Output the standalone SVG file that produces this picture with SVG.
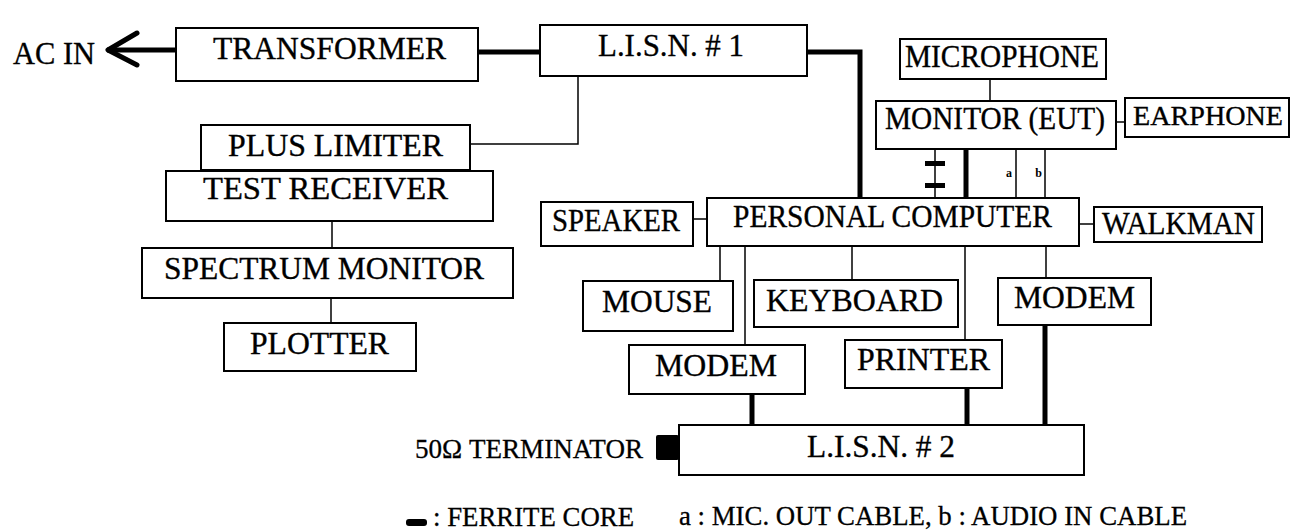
<svg xmlns="http://www.w3.org/2000/svg" width="1292" height="531" viewBox="0 0 1292 531">
<style>
.box{fill:#fff;stroke:#000;stroke-width:2}
.t{font-family:"Liberation Serif","Times New Roman",serif;font-size:32px;fill:#000;stroke:#000;stroke-width:0.35}
.s{font-family:"Liberation Serif","Times New Roman",serif;font-size:28px;fill:#000;stroke:#000;stroke-width:0.3}
.thin{fill:none;stroke:#000;stroke-width:1.5}
.thick{fill:none;stroke:#000;stroke-width:5}
</style>
<rect width="1292" height="531" fill="#fff"/>
<g id="connectors">
<line class="thick" x1="107" y1="50" x2="176" y2="50" stroke-width="4"/>
<polyline class="thick" points="137,33 108,50 137,65" stroke-linecap="round" stroke-linejoin="round"/>
<line class="thick" x1="478" y1="52" x2="540" y2="52" stroke-width="4"/>
<polyline class="thin" points="578,76 578,144 470,144"/>
<polyline class="thick" points="807,52 860,52 860,198" stroke-width="4.5"/>
<line class="thin" x1="332" y1="221" x2="332" y2="248"/>
<line class="thin" x1="331" y1="298" x2="331" y2="323"/>
<line class="thin" x1="990" y1="79" x2="990" y2="101"/>
<line class="thin" x1="1116" y1="122" x2="1125" y2="122"/>
<line class="thin" x1="935" y1="149" x2="935" y2="198"/>
<rect x="925" y="161" width="20" height="5" fill="#000"/>
<rect x="925" y="183" width="20" height="5" fill="#000"/>
<line class="thick" x1="966" y1="149" x2="966" y2="198"/>
<line class="thin" x1="1016" y1="149" x2="1016" y2="198"/>
<line class="thin" x1="1045" y1="149" x2="1045" y2="198"/>
<text x="1012" y="177" text-anchor="end" font-family="Liberation Serif, serif" font-size="12" font-weight="bold">a</text>
<text x="1042" y="177" text-anchor="end" font-family="Liberation Serif, serif" font-size="12" font-weight="bold">b</text>
<line class="thin" x1="693" y1="219" x2="707" y2="219"/>
<line class="thin" x1="1079" y1="224" x2="1094" y2="224"/>
<line class="thin" x1="720" y1="246" x2="720" y2="281"/>
<line class="thin" x1="745" y1="246" x2="745" y2="345"/>
<line class="thin" x1="852" y1="246" x2="852" y2="280"/>
<line class="thin" x1="965" y1="246" x2="965" y2="340"/>
<line class="thin" x1="1046" y1="246" x2="1046" y2="278"/>
<line class="thick" x1="752" y1="394" x2="752" y2="425"/>
<line class="thick" x1="967" y1="388" x2="967" y2="425"/>
<line class="thick" x1="1045" y1="325" x2="1045" y2="425"/>
</g>
<g id="acin"><text class="t" x="13" y="64" textLength="82" lengthAdjust="spacingAndGlyphs">AC IN</text></g>
<g id="transformer"><rect class="box" x="176" y="28" width="302" height="53"/><text class="t" x="213" y="59" textLength="233" lengthAdjust="spacingAndGlyphs">TRANSFORMER</text></g>
<g id="lisn1"><rect class="box" x="540" y="25" width="267" height="51"/><text class="t" x="598" y="56" textLength="146" lengthAdjust="spacingAndGlyphs">L.I.S.N. # 1</text></g>
<g id="plus-limiter"><rect class="box" x="201" y="125" width="269" height="45"/><text class="t" x="228" y="156" textLength="215" lengthAdjust="spacingAndGlyphs">PLUS LIMITER</text></g>
<g id="test-receiver"><rect class="box" x="166" y="171" width="327" height="50"/><text class="t" x="203" y="199" textLength="245" lengthAdjust="spacingAndGlyphs">TEST RECEIVER</text></g>
<g id="spectrum-monitor"><rect class="box" x="142" y="248" width="371" height="50"/><text class="t" x="164" y="279" textLength="320" lengthAdjust="spacingAndGlyphs">SPECTRUM MONITOR</text></g>
<g id="plotter"><rect class="box" x="224" y="323" width="192" height="48"/><text class="t" x="250" y="354" textLength="139" lengthAdjust="spacingAndGlyphs">PLOTTER</text></g>
<g id="microphone"><rect class="box" x="900" y="39" width="206" height="40"/><text class="t" x="905" y="67" textLength="194" lengthAdjust="spacingAndGlyphs">MICROPHONE</text></g>
<g id="monitor"><rect class="box" x="876" y="101" width="240" height="48"/><text class="t" x="885" y="129" textLength="220" lengthAdjust="spacingAndGlyphs">MONITOR (EUT)</text></g>
<g id="earphone"><rect class="box" x="1125" y="98" width="164" height="39"/><text class="t" x="1133" y="125" style="font-size:28px" textLength="150" lengthAdjust="spacingAndGlyphs">EARPHONE</text></g>
<g id="speaker"><rect class="box" x="541" y="202" width="152" height="44"/><text class="t" x="552" y="231" textLength="128" lengthAdjust="spacingAndGlyphs">SPEAKER</text></g>
<g id="pc"><rect class="box" x="707" y="198" width="372" height="48"/><text class="t" x="733" y="227" textLength="319" lengthAdjust="spacingAndGlyphs">PERSONAL COMPUTER</text></g>
<g id="walkman"><rect class="box" x="1094" y="207" width="168" height="35"/><text class="t" x="1102" y="234" textLength="153" lengthAdjust="spacingAndGlyphs">WALKMAN</text></g>
<g id="mouse"><rect class="box" x="583" y="281" width="150" height="50"/><text class="t" x="602" y="312" textLength="110" lengthAdjust="spacingAndGlyphs">MOUSE</text></g>
<g id="keyboard"><rect class="box" x="754" y="280" width="204" height="47"/><text class="t" x="766" y="311" textLength="177" lengthAdjust="spacingAndGlyphs">KEYBOARD</text></g>
<g id="modem-right"><rect class="box" x="998" y="278" width="153" height="47"/><text class="t" x="1014" y="308" textLength="121" lengthAdjust="spacingAndGlyphs">MODEM</text></g>
<g id="modem-lower"><rect class="box" x="629" y="345" width="176" height="49"/><text class="t" x="655" y="376" textLength="122" lengthAdjust="spacingAndGlyphs">MODEM</text></g>
<g id="printer"><rect class="box" x="845" y="340" width="157" height="48"/><text class="t" x="857" y="370" textLength="133" lengthAdjust="spacingAndGlyphs">PRINTER</text></g>
<g id="lisn2"><rect class="box" x="679" y="425" width="405" height="50"/><text class="t" x="807" y="457" textLength="148" lengthAdjust="spacingAndGlyphs">L.I.S.N. # 2</text></g>
<g id="terminator"><rect x="656" y="435" width="23" height="25" rx="2" fill="#000"/><text class="s" x="415" y="458" textLength="228" lengthAdjust="spacingAndGlyphs">50Ω TERMINATOR</text></g>
<g id="legend">
<rect x="406" y="519" width="21" height="7" rx="3" fill="#000"/>
<text class="s" x="433" y="526" textLength="201" lengthAdjust="spacingAndGlyphs">: FERRITE CORE</text>
<text class="s" x="679" y="525" textLength="508" lengthAdjust="spacingAndGlyphs">a : MIC. OUT CABLE, b : AUDIO IN CABLE</text>
</g>
</svg>
